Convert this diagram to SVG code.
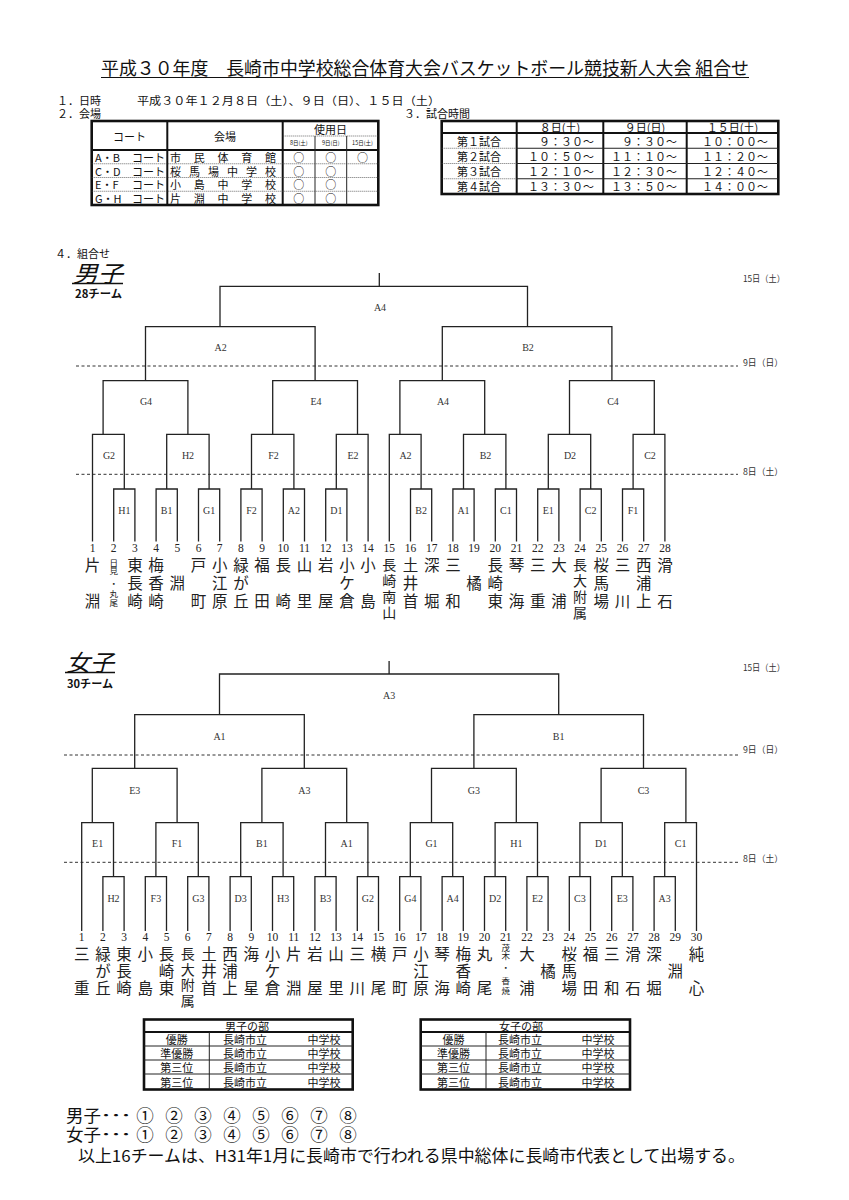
<svg xmlns="http://www.w3.org/2000/svg" width="849" height="1200" viewBox="0 0 849 1200">
<defs>
<style>
text{font-family:"Noto Sans CJK JP","Liberation Sans",sans-serif;fill:#111}
.c,.c tspan{dominant-baseline:central}
.m{text-anchor:middle}
.e{text-anchor:end}
.ln{fill:none;stroke:#222;stroke-width:1.3}
.dash{fill:none;stroke:#333;stroke-width:1;stroke-dasharray:3 2.5}
.thin{fill:none;stroke:#222;stroke-width:1}
.thk{fill:none;stroke:#111;stroke-width:2}
.box{fill:none;stroke:#111;stroke-width:2.6}
.dot{fill:none;stroke:#444;stroke-width:0.8;stroke-dasharray:1 1}
.nm,.nm tspan{font-size:15.5px;text-anchor:middle;dominant-baseline:central;fill:#222}
.n4,.n4 tspan{font-size:14px;text-anchor:middle;dominant-baseline:central;fill:#222}
.sm,.sm tspan{font-size:8.5px;text-anchor:middle;dominant-baseline:central;fill:#222}
.no{font-family:"Liberation Serif",serif;font-size:11.5px;text-anchor:middle;dominant-baseline:central;fill:#222}
.lb{font-family:"Liberation Serif",serif;font-size:10px;text-anchor:middle;dominant-baseline:central;fill:#333}
.dl{font-size:9px;dominant-baseline:central;fill:#333}
.h11{font-size:11px}
.tb{font-size:11px;dominant-baseline:central}
.ft,.ft tspan{font-size:17.5px;dominant-baseline:central;fill:#111}
</style>
</defs>
<rect width="849" height="1200" fill="#fff"/>

<g id="header">
<text class="c" x="101" y="67" font-size="18" textLength="648" lengthAdjust="spacingAndGlyphs">平成３０年度　長崎市中学校総合体育大会バスケットボール競技新人大会 組合せ</text>
<line x1="101" y1="77.5" x2="749" y2="77.5" stroke="#111" stroke-width="1"/>
<text class="c h11" x="57" y="100">１．日時</text>
<text class="c h11" x="137" y="100" textLength="303" lengthAdjust="spacingAndGlyphs">平成３０年１２月８日（土）、９日（日）、１５日（土）</text>
<text class="c h11" x="57" y="113">２．会場</text>
<text class="c h11" x="404" y="113">３．試合時間</text>
<text class="c h11" x="55" y="253">４．組合せ</text>
</g>

<g id="table-venue">
<rect class="box" x="91.7" y="121" width="286.6" height="84"/>
<line class="thk" x1="167.3" y1="121" x2="167.3" y2="205"/>
<line class="thk" x1="282.7" y1="121" x2="282.7" y2="205"/>
<line class="thk" x1="91.7" y1="150" x2="378.3" y2="150"/>
<line class="dot" x1="282.7" y1="136" x2="378.3" y2="136"/>
<line class="thin" x1="315" y1="136" x2="315" y2="205"/>
<line class="thin" x1="346.7" y1="136" x2="346.7" y2="205"/>
<line class="dot" x1="91.7" y1="163.75" x2="378.3" y2="163.75"/>
<line class="dot" x1="91.7" y1="177.5" x2="378.3" y2="177.5"/>
<line class="dot" x1="91.7" y1="191.25" x2="378.3" y2="191.25"/>
<text class="tb m" x="129.5" y="135.5">コート</text>
<text class="tb m" x="225" y="135.5">会場</text>
<text class="tb m" x="330.5" y="128.5" font-size="12">使用日</text>
<text class="m c" x="298.8" y="143" font-size="5.5">8日(土)</text>
<text class="m c" x="330.8" y="143" font-size="5.5">9日(日)</text>
<text class="m c" x="362.5" y="143" font-size="5.5">15日(土)</text>
<text class="tb" x="95" y="157">A・B</text>
<text class="tb e" x="165" y="157">コート</text>
<text class="tb" x="170" y="157" textLength="106" lengthAdjust="spacing">市民体育館</text>
<text class="tb" x="95" y="170.7">C・D</text>
<text class="tb e" x="165" y="170.7">コート</text>
<text class="tb" x="170" y="170.7" textLength="106" lengthAdjust="spacing">桜馬場中学校</text>
<text class="tb" x="95" y="184.4">E・F</text>
<text class="tb e" x="165" y="184.4">コート</text>
<text class="tb" x="170" y="184.4" textLength="106" lengthAdjust="spacing">小島中学校</text>
<text class="tb" x="95" y="198.1">G・H</text>
<text class="tb e" x="165" y="198.1">コート</text>
<text class="tb" x="170" y="198.1" textLength="106" lengthAdjust="spacing">片淵中学校</text>
<text class="tb m" x="298.8" y="157">○</text>
<text class="tb m" x="330.8" y="157">○</text>
<text class="tb m" x="362.5" y="157">○</text>
<text class="tb m" x="298.8" y="170.7">○</text>
<text class="tb m" x="330.8" y="170.7">○</text>
<text class="tb m" x="298.8" y="184.4">○</text>
<text class="tb m" x="330.8" y="184.4">○</text>
<text class="tb m" x="298.8" y="198.1">○</text>
<text class="tb m" x="330.8" y="198.1">○</text>
</g>

<g id="table-time">
<rect class="box" x="441.7" y="121" width="336.6" height="73"/>
<line class="thk" x1="516.7" y1="121" x2="516.7" y2="194"/>
<line class="thk" x1="603.3" y1="121" x2="603.3" y2="194"/>
<line class="thk" x1="686.7" y1="121" x2="686.7" y2="194"/>
<line class="thk" x1="441.7" y1="133" x2="778.3" y2="133"/>
<line class="dot" x1="441.7" y1="148.25" x2="516.7" y2="148.25"/>
<line class="dot" x1="441.7" y1="163.5" x2="516.7" y2="163.5"/>
<line class="dot" x1="441.7" y1="178.75" x2="516.7" y2="178.75"/>
<line class="thin" x1="516.7" y1="148.25" x2="778.3" y2="148.25"/>
<line class="thin" x1="516.7" y1="163.5" x2="778.3" y2="163.5"/>
<line class="thin" x1="516.7" y1="178.75" x2="778.3" y2="178.75"/>
<text class="tb m" x="560" y="127">８日(土)</text>
<text class="tb m" x="645" y="127">９日(日)</text>
<text class="tb m" x="732.5" y="127">１５日(土)</text>
<text class="tb m" x="479" y="140.6">第１試合</text>
<text class="tb m" x="479" y="155.9">第２試合</text>
<text class="tb m" x="479" y="171.1">第３試合</text>
<text class="tb m" x="479" y="186.4">第４試合</text>
<text class="tb e" x="594" y="140.6">９：３０～</text>
<text class="tb e" x="594" y="155.9">１０：５０～</text>
<text class="tb e" x="594" y="171.1">１２：１０～</text>
<text class="tb e" x="594" y="186.4">１３：３０～</text>
<text class="tb e" x="677" y="140.6">９：３０～</text>
<text class="tb e" x="677" y="155.9">１１：１０～</text>
<text class="tb e" x="677" y="171.1">１２：３０～</text>
<text class="tb e" x="677" y="186.4">１３：５０～</text>
<text class="tb e" x="768" y="140.6">１０：００～</text>
<text class="tb e" x="768" y="155.9">１１：２０～</text>
<text class="tb e" x="768" y="171.1">１２：４０～</text>
<text class="tb e" x="768" y="186.4">１４：００～</text>
</g>

<g id="men-title">
<text class="c" x="73" y="271.5" font-size="23" font-style="italic" textLength="50" lengthAdjust="spacingAndGlyphs">男子</text>
<line x1="72" y1="283.5" x2="123" y2="283.5" stroke="#111" stroke-width="1.3"/>
<text class="c" x="75" y="293" font-size="11" font-weight="bold" textLength="47" lengthAdjust="spacingAndGlyphs">28チーム</text>
</g>

<g id="men-dates">
<line class="dash" x1="76" y1="366" x2="738" y2="366"/>
<line class="dash" x1="76" y1="474.3" x2="738" y2="474.3"/>
<text class="dl" x="743" y="278" textLength="42" lengthAdjust="spacingAndGlyphs">15日（土）</text>
<text class="dl" x="743" y="362" textLength="40" lengthAdjust="spacingAndGlyphs">9日（日）</text>
<text class="dl" x="743" y="471" textLength="40" lengthAdjust="spacingAndGlyphs">8日（土）</text>
</g>

<g id="men-connectors">
<path class="ln" d="M113.7 541.5V489H134.9V541.5M156.1 541.5V489H177.3V541.5M198.5 541.5V489H219.7V541.5M240.9 541.5V489H262.1V541.5M283.3 541.5V489H304.5V541.5M325.7 541.5V489H346.9V541.5M410.5 541.5V489H431.7V541.5M452.9 541.5V489H474.1V541.5M495.3 541.5V489H516.5V541.5M537.7 541.5V489H558.9V541.5M580.1 541.5V489H601.3V541.5M622.5 541.5V489H643.7V541.5"/>
<path class="ln" d="M92.5 541.5V434.3H124.3V489M166.7 489V434.3H209.1V489M251.5 489V434.3H293.9V489M336.3 489V434.3H368.1V541.5M389.3 541.5V434.3H421.1V489M463.5 489V434.3H505.9V489M548.3 489V434.3H590.7V489M633.1 489V434.3H664.9V541.5"/>
<path class="ln" d="M103.1 434.3V380.7H187.9V434.3M272.7 434.3V380.7H357.5V434.3M399.9 434.3V380.7H484.7V434.3M569.5 434.3V380.7H654.3V434.3"/>
<path class="ln" d="M145.5 380.7V326.7H315.1V380.7M442.3 380.7V326.7H611.9V380.7"/>
<path class="ln" d="M220 326.7V286.3H527.5V326.7M379.3 286.3V273"/>
</g>

<g id="men-matches">
<g id="m-final-A4"><text class="lb" x="380" y="307.5">A4</text></g>
<g id="m-r4-A2"><text class="lb" x="220.7" y="347.7">A2</text></g>
<g id="m-r4-B2"><text class="lb" x="528" y="347.7">B2</text></g>
<g id="m-r3-G4"><text class="lb" x="146" y="401.7">G4</text></g>
<g id="m-r3-E4"><text class="lb" x="316" y="401.7">E4</text></g>
<g id="m-r3-A4"><text class="lb" x="443" y="401.7">A4</text></g>
<g id="m-r3-C4"><text class="lb" x="613" y="401.7">C4</text></g>
<g id="m-r2-G2"><text class="lb" x="109" y="455.5">G2</text></g>
<g id="m-r2-H2"><text class="lb" x="188" y="455.5">H2</text></g>
<g id="m-r2-F2"><text class="lb" x="273.5" y="455.5">F2</text></g>
<g id="m-r2-E2"><text class="lb" x="353" y="455.5">E2</text></g>
<g id="m-r2-A2"><text class="lb" x="405.5" y="455.5">A2</text></g>
<g id="m-r2-B2"><text class="lb" x="485.5" y="455.5">B2</text></g>
<g id="m-r2-D2"><text class="lb" x="570" y="455.5">D2</text></g>
<g id="m-r2-C2"><text class="lb" x="650" y="455.5">C2</text></g>
<g id="m-r1-H1"><text class="lb" x="124.3" y="510">H1</text></g>
<g id="m-r1-B1"><text class="lb" x="166.7" y="510">B1</text></g>
<g id="m-r1-G1"><text class="lb" x="209.1" y="510">G1</text></g>
<g id="m-r1-F2"><text class="lb" x="251.5" y="510">F2</text></g>
<g id="m-r1-A2"><text class="lb" x="293.9" y="510">A2</text></g>
<g id="m-r1-D1"><text class="lb" x="336.3" y="510">D1</text></g>
<g id="m-r1-B2"><text class="lb" x="421.1" y="510">B2</text></g>
<g id="m-r1-A1"><text class="lb" x="463.5" y="510">A1</text></g>
<g id="m-r1-C1"><text class="lb" x="505.9" y="510">C1</text></g>
<g id="m-r1-E1"><text class="lb" x="548.3" y="510">E1</text></g>
<g id="m-r1-C2"><text class="lb" x="590.7" y="510">C2</text></g>
<g id="m-r1-F1"><text class="lb" x="633.1" y="510">F1</text></g>
</g>

<g id="men-teams">
<g id="m-team-1"><text class="no" x="92.5" y="548">1</text><text class="nm"><tspan x="92.5" y="563.5">片</tspan><tspan x="92.5" y="599.5">淵</tspan></text></g>
<g id="m-team-2"><text class="no" x="113.7" y="548">2</text><text class="sm"><tspan x="113.7" y="561.7">日</tspan><tspan x="113.7" y="570">見</tspan><tspan x="113.7" y="582.5">・</tspan><tspan x="113.7" y="593.3">丸</tspan><tspan x="113.7" y="601.7">尾</tspan></text></g>
<g id="m-team-3"><text class="no" x="134.9" y="548">3</text><text class="nm"><tspan x="134.9" y="563.5">東</tspan><tspan x="134.9" y="581.5">長</tspan><tspan x="134.9" y="599.5">崎</tspan></text></g>
<g id="m-team-4"><text class="no" x="156.1" y="548">4</text><text class="nm"><tspan x="156.1" y="563.5">梅</tspan><tspan x="156.1" y="581.5">香</tspan><tspan x="156.1" y="599.5">崎</tspan></text></g>
<g id="m-team-5"><text class="no" x="177.3" y="548">5</text><text class="nm"><tspan x="177.3" y="581.5">淵</tspan></text></g>
<g id="m-team-6"><text class="no" x="198.5" y="548">6</text><text class="nm"><tspan x="198.5" y="563.5">戸</tspan><tspan x="198.5" y="599.5">町</tspan></text></g>
<g id="m-team-7"><text class="no" x="219.7" y="548">7</text><text class="nm"><tspan x="219.7" y="563.5">小</tspan><tspan x="219.7" y="581.5">江</tspan><tspan x="219.7" y="599.5">原</tspan></text></g>
<g id="m-team-8"><text class="no" x="240.9" y="548">8</text><text class="nm"><tspan x="240.9" y="563.5">緑</tspan><tspan x="240.9" y="581.5">が</tspan><tspan x="240.9" y="599.5">丘</tspan></text></g>
<g id="m-team-9"><text class="no" x="262.1" y="548">9</text><text class="nm"><tspan x="262.1" y="563.5">福</tspan><tspan x="262.1" y="599.5">田</tspan></text></g>
<g id="m-team-10"><text class="no" x="283.3" y="548">10</text><text class="nm"><tspan x="283.3" y="563.5">長</tspan><tspan x="283.3" y="599.5">崎</tspan></text></g>
<g id="m-team-11"><text class="no" x="304.5" y="548">11</text><text class="nm"><tspan x="304.5" y="563.5">山</tspan><tspan x="304.5" y="599.5">里</tspan></text></g>
<g id="m-team-12"><text class="no" x="325.7" y="548">12</text><text class="nm"><tspan x="325.7" y="563.5">岩</tspan><tspan x="325.7" y="599.5">屋</tspan></text></g>
<g id="m-team-13"><text class="no" x="346.9" y="548">13</text><text class="nm"><tspan x="346.9" y="563.5">小</tspan><tspan x="346.9" y="581.5">ケ</tspan><tspan x="346.9" y="599.5">倉</tspan></text></g>
<g id="m-team-14"><text class="no" x="368.1" y="548">14</text><text class="nm"><tspan x="368.1" y="563.5">小</tspan><tspan x="368.1" y="599.5">島</tspan></text></g>
<g id="m-team-15"><text class="no" x="389.3" y="548">15</text><text class="n4"><tspan x="389.3" y="563.5">長</tspan><tspan x="389.3" y="579.5">崎</tspan><tspan x="389.3" y="595.5">南</tspan><tspan x="389.3" y="611.5">山</tspan></text></g>
<g id="m-team-16"><text class="no" x="410.5" y="548">16</text><text class="nm"><tspan x="410.5" y="563.5">土</tspan><tspan x="410.5" y="581.5">井</tspan><tspan x="410.5" y="599.5">首</tspan></text></g>
<g id="m-team-17"><text class="no" x="431.7" y="548">17</text><text class="nm"><tspan x="431.7" y="563.5">深</tspan><tspan x="431.7" y="599.5">堀</tspan></text></g>
<g id="m-team-18"><text class="no" x="452.9" y="548">18</text><text class="nm"><tspan x="452.9" y="563.5">三</tspan><tspan x="452.9" y="599.5">和</tspan></text></g>
<g id="m-team-19"><text class="no" x="474.1" y="548">19</text><text class="nm"><tspan x="474.1" y="581.5">橘</tspan></text></g>
<g id="m-team-20"><text class="no" x="495.3" y="548">20</text><text class="nm"><tspan x="495.3" y="563.5">長</tspan><tspan x="495.3" y="581.5">崎</tspan><tspan x="495.3" y="599.5">東</tspan></text></g>
<g id="m-team-21"><text class="no" x="516.5" y="548">21</text><text class="nm"><tspan x="516.5" y="563.5">琴</tspan><tspan x="516.5" y="599.5">海</tspan></text></g>
<g id="m-team-22"><text class="no" x="537.7" y="548">22</text><text class="nm"><tspan x="537.7" y="563.5">三</tspan><tspan x="537.7" y="599.5">重</tspan></text></g>
<g id="m-team-23"><text class="no" x="558.9" y="548">23</text><text class="nm"><tspan x="558.9" y="563.5">大</tspan><tspan x="558.9" y="599.5">浦</tspan></text></g>
<g id="m-team-24"><text class="no" x="580.1" y="548">24</text><text class="n4"><tspan x="580.1" y="563.5">長</tspan><tspan x="580.1" y="579.5">大</tspan><tspan x="580.1" y="595.5">附</tspan><tspan x="580.1" y="611.5">属</tspan></text></g>
<g id="m-team-25"><text class="no" x="601.3" y="548">25</text><text class="nm"><tspan x="601.3" y="563.5">桜</tspan><tspan x="601.3" y="581.5">馬</tspan><tspan x="601.3" y="599.5">場</tspan></text></g>
<g id="m-team-26"><text class="no" x="622.5" y="548">26</text><text class="nm"><tspan x="622.5" y="563.5">三</tspan><tspan x="622.5" y="599.5">川</tspan></text></g>
<g id="m-team-27"><text class="no" x="643.7" y="548">27</text><text class="nm"><tspan x="643.7" y="563.5">西</tspan><tspan x="643.7" y="581.5">浦</tspan><tspan x="643.7" y="599.5">上</tspan></text></g>
<g id="m-team-28"><text class="no" x="664.9" y="548">28</text><text class="nm"><tspan x="664.9" y="563.5">滑</tspan><tspan x="664.9" y="599.5">石</tspan></text></g>
</g>

<g id="women-title">
<text class="c" x="66" y="660.5" font-size="23" font-style="italic" textLength="48" lengthAdjust="spacingAndGlyphs">女子</text>
<line x1="65" y1="672.5" x2="115" y2="672.5" stroke="#111" stroke-width="1.3"/>
<text class="c" x="67" y="683" font-size="11" font-weight="bold" textLength="46" lengthAdjust="spacingAndGlyphs">30チーム</text>
</g>

<g id="women-dates">
<line class="dash" x1="64" y1="755" x2="738" y2="755"/>
<line class="dash" x1="64" y1="862.3" x2="738" y2="862.3"/>
<text class="dl" x="743" y="667" textLength="42" lengthAdjust="spacingAndGlyphs">15日（土）</text>
<text class="dl" x="743" y="749" textLength="40" lengthAdjust="spacingAndGlyphs">9日（日）</text>
<text class="dl" x="743" y="858" textLength="40" lengthAdjust="spacingAndGlyphs">8日（土）</text>
</g>

<g id="women-connectors">
<path class="ln" d="M102.9 931V876.7H124.1V931M145.3 931V876.7H166.5V931M187.7 931V876.7H208.9V931M230.1 931V876.7H251.3V931M272.5 931V876.7H293.7V931M314.9 931V876.7H336.1V931M357.3 931V876.7H378.5V931M399.7 931V876.7H420.9V931M442.1 931V876.7H463.3V931M484.5 931V876.7H505.7V931M526.9 931V876.7H548.1V931M569.3 931V876.7H590.5V931M611.7 931V876.7H632.9V931M654.1 931V876.7H675.3V931"/>
<path class="ln" d="M81.7 931V822.7H113.5V876.7M155.9 876.7V822.7H198.3V876.7M240.7 876.7V822.7H283.1V876.7M325.5 876.7V822.7H367.9V876.7M410.3 876.7V822.7H452.7V876.7M495.1 876.7V822.7H537.5V876.7M579.9 876.7V822.7H622.3V876.7M664.7 876.7V822.7H696.5V931"/>
<path class="ln" d="M92.3 822.7V768.3H177.1V822.7M261.9 822.7V768.3H346.7V822.7M431.5 822.7V768.3H516.3V822.7M601.1 822.7V768.3H685.9V822.7"/>
<path class="ln" d="M134.7 768.3V714.7H304.3V768.3M473.9 768.3V714.7H643.5V768.3"/>
<path class="ln" d="M219.5 714.7V674H558.7V714.7M389.1 674V661"/>
</g>

<g id="women-matches">
<g id="w-final-A3"><text class="lb" x="389.1" y="695">A3</text></g>
<g id="w-r4-A1"><text class="lb" x="219.5" y="736.7">A1</text></g>
<g id="w-r4-B1"><text class="lb" x="558.7" y="736.7">B1</text></g>
<g id="w-r3-E3"><text class="lb" x="134.7" y="790">E3</text></g>
<g id="w-r3-A3"><text class="lb" x="304.3" y="790">A3</text></g>
<g id="w-r3-G3"><text class="lb" x="473.9" y="790">G3</text></g>
<g id="w-r3-C3"><text class="lb" x="643.5" y="790">C3</text></g>
<g id="w-r2-E1"><text class="lb" x="97.6" y="843.3">E1</text></g>
<g id="w-r2-F1"><text class="lb" x="177.1" y="843.3">F1</text></g>
<g id="w-r2-B1"><text class="lb" x="261.9" y="843.3">B1</text></g>
<g id="w-r2-A1"><text class="lb" x="346.7" y="843.3">A1</text></g>
<g id="w-r2-G1"><text class="lb" x="431.5" y="843.3">G1</text></g>
<g id="w-r2-H1"><text class="lb" x="516.3" y="843.3">H1</text></g>
<g id="w-r2-D1"><text class="lb" x="601.1" y="843.3">D1</text></g>
<g id="w-r2-C1"><text class="lb" x="680.6" y="843.3">C1</text></g>
<g id="w-r1-H2"><text class="lb" x="113.5" y="898.3">H2</text></g>
<g id="w-r1-F3"><text class="lb" x="155.9" y="898.3">F3</text></g>
<g id="w-r1-G3"><text class="lb" x="198.3" y="898.3">G3</text></g>
<g id="w-r1-D3"><text class="lb" x="240.7" y="898.3">D3</text></g>
<g id="w-r1-H3"><text class="lb" x="283.1" y="898.3">H3</text></g>
<g id="w-r1-B3"><text class="lb" x="325.5" y="898.3">B3</text></g>
<g id="w-r1-G2"><text class="lb" x="367.9" y="898.3">G2</text></g>
<g id="w-r1-G4"><text class="lb" x="410.3" y="898.3">G4</text></g>
<g id="w-r1-A4"><text class="lb" x="452.7" y="898.3">A4</text></g>
<g id="w-r1-D2"><text class="lb" x="495.1" y="898.3">D2</text></g>
<g id="w-r1-E2"><text class="lb" x="537.5" y="898.3">E2</text></g>
<g id="w-r1-C3"><text class="lb" x="579.9" y="898.3">C3</text></g>
<g id="w-r1-E3"><text class="lb" x="622.3" y="898.3">E3</text></g>
<g id="w-r1-A3"><text class="lb" x="664.7" y="898.3">A3</text></g>
</g>

<g id="women-teams">
<g id="w-team-1"><text class="no" x="81.7" y="936.5">1</text><text class="nm"><tspan x="81.7" y="953.3">三</tspan><tspan x="81.7" y="987.3">重</tspan></text></g>
<g id="w-team-2"><text class="no" x="102.9" y="936.5">2</text><text class="nm"><tspan x="102.9" y="953.3">緑</tspan><tspan x="102.9" y="970">が</tspan><tspan x="102.9" y="987.3">丘</tspan></text></g>
<g id="w-team-3"><text class="no" x="124.1" y="936.5">3</text><text class="nm"><tspan x="124.1" y="953.3">東</tspan><tspan x="124.1" y="970">長</tspan><tspan x="124.1" y="987.3">崎</tspan></text></g>
<g id="w-team-4"><text class="no" x="145.3" y="936.5">4</text><text class="nm"><tspan x="145.3" y="953.3">小</tspan><tspan x="145.3" y="987.3">島</tspan></text></g>
<g id="w-team-5"><text class="no" x="166.5" y="936.5">5</text><text class="nm"><tspan x="166.5" y="953.3">長</tspan><tspan x="166.5" y="970">崎</tspan><tspan x="166.5" y="987.3">東</tspan></text></g>
<g id="w-team-6"><text class="no" x="187.7" y="936.5">6</text><text class="n4"><tspan x="187.7" y="953.3">長</tspan><tspan x="187.7" y="968.8">大</tspan><tspan x="187.7" y="984.3">附</tspan><tspan x="187.7" y="999.8">属</tspan></text></g>
<g id="w-team-7"><text class="no" x="208.9" y="936.5">7</text><text class="nm"><tspan x="208.9" y="953.3">土</tspan><tspan x="208.9" y="970">井</tspan><tspan x="208.9" y="987.3">首</tspan></text></g>
<g id="w-team-8"><text class="no" x="230.1" y="936.5">8</text><text class="nm"><tspan x="230.1" y="953.3">西</tspan><tspan x="230.1" y="970">浦</tspan><tspan x="230.1" y="987.3">上</tspan></text></g>
<g id="w-team-9"><text class="no" x="251.3" y="936.5">9</text><text class="nm"><tspan x="251.3" y="953.3">海</tspan><tspan x="251.3" y="987.3">星</tspan></text></g>
<g id="w-team-10"><text class="no" x="272.5" y="936.5">10</text><text class="nm"><tspan x="272.5" y="953.3">小</tspan><tspan x="272.5" y="970">ケ</tspan><tspan x="272.5" y="987.3">倉</tspan></text></g>
<g id="w-team-11"><text class="no" x="293.7" y="936.5">11</text><text class="nm"><tspan x="293.7" y="953.3">片</tspan><tspan x="293.7" y="987.3">淵</tspan></text></g>
<g id="w-team-12"><text class="no" x="314.9" y="936.5">12</text><text class="nm"><tspan x="314.9" y="953.3">岩</tspan><tspan x="314.9" y="987.3">屋</tspan></text></g>
<g id="w-team-13"><text class="no" x="336.1" y="936.5">13</text><text class="nm"><tspan x="336.1" y="953.3">山</tspan><tspan x="336.1" y="987.3">里</tspan></text></g>
<g id="w-team-14"><text class="no" x="357.3" y="936.5">14</text><text class="nm"><tspan x="357.3" y="953.3">三</tspan><tspan x="357.3" y="987.3">川</tspan></text></g>
<g id="w-team-15"><text class="no" x="378.5" y="936.5">15</text><text class="nm"><tspan x="378.5" y="953.3">横</tspan><tspan x="378.5" y="987.3">尾</tspan></text></g>
<g id="w-team-16"><text class="no" x="399.7" y="936.5">16</text><text class="nm"><tspan x="399.7" y="953.3">戸</tspan><tspan x="399.7" y="987.3">町</tspan></text></g>
<g id="w-team-17"><text class="no" x="420.9" y="936.5">17</text><text class="nm"><tspan x="420.9" y="953.3">小</tspan><tspan x="420.9" y="970">江</tspan><tspan x="420.9" y="987.3">原</tspan></text></g>
<g id="w-team-18"><text class="no" x="442.1" y="936.5">18</text><text class="nm"><tspan x="442.1" y="953.3">琴</tspan><tspan x="442.1" y="987.3">海</tspan></text></g>
<g id="w-team-19"><text class="no" x="463.3" y="936.5">19</text><text class="nm"><tspan x="463.3" y="953.3">梅</tspan><tspan x="463.3" y="970">香</tspan><tspan x="463.3" y="987.3">崎</tspan></text></g>
<g id="w-team-20"><text class="no" x="484.5" y="936.5">20</text><text class="nm"><tspan x="484.5" y="953.3">丸</tspan><tspan x="484.5" y="987.3">尾</tspan></text></g>
<g id="w-team-21"><text class="no" x="505.7" y="936.5">21</text><text class="sm"><tspan x="505.7" y="946.7">茂</tspan><tspan x="505.7" y="955">木</tspan><tspan x="505.7" y="966.7">・</tspan><tspan x="505.7" y="980">香</tspan><tspan x="505.7" y="990">焼</tspan></text></g>
<g id="w-team-22"><text class="no" x="526.9" y="936.5">22</text><text class="nm"><tspan x="526.9" y="953.3">大</tspan><tspan x="526.9" y="987.3">浦</tspan></text></g>
<g id="w-team-23"><text class="no" x="548.1" y="936.5">23</text><text class="nm"><tspan x="548.1" y="970">橘</tspan></text></g>
<g id="w-team-24"><text class="no" x="569.3" y="936.5">24</text><text class="nm"><tspan x="569.3" y="953.3">桜</tspan><tspan x="569.3" y="970">馬</tspan><tspan x="569.3" y="987.3">場</tspan></text></g>
<g id="w-team-25"><text class="no" x="590.5" y="936.5">25</text><text class="nm"><tspan x="590.5" y="953.3">福</tspan><tspan x="590.5" y="987.3">田</tspan></text></g>
<g id="w-team-26"><text class="no" x="611.7" y="936.5">26</text><text class="nm"><tspan x="611.7" y="953.3">三</tspan><tspan x="611.7" y="987.3">和</tspan></text></g>
<g id="w-team-27"><text class="no" x="632.9" y="936.5">27</text><text class="nm"><tspan x="632.9" y="953.3">滑</tspan><tspan x="632.9" y="987.3">石</tspan></text></g>
<g id="w-team-28"><text class="no" x="654.1" y="936.5">28</text><text class="nm"><tspan x="654.1" y="953.3">深</tspan><tspan x="654.1" y="987.3">堀</tspan></text></g>
<g id="w-team-29"><text class="no" x="675.3" y="936.5">29</text><text class="nm"><tspan x="675.3" y="970">淵</tspan></text></g>
<g id="w-team-30"><text class="no" x="696.5" y="936.5">30</text><text class="nm"><tspan x="696.5" y="953.3">純</tspan><tspan x="696.5" y="987.3">心</tspan></text></g>
</g>

<g id="result-men">
<rect class="box" x="144" y="1019.5" width="208.7" height="70" stroke-width="3"/>
<line class="thk" x1="144" y1="1032" x2="352.7" y2="1032"/>
<line class="thin" x1="209.3" y1="1032" x2="209.3" y2="1089.5"/>
<line class="thin" x1="144" y1="1046" x2="352.7" y2="1046"/>
<line class="thin" x1="144" y1="1060" x2="352.7" y2="1060"/>
<line class="thin" x1="144" y1="1074" x2="352.7" y2="1074"/>
<text class="tb m" x="247" y="1025.8" font-size="11.5">男子の部</text>
<text class="tb m" x="176.7" y="1039">優勝</text><text class="tb m" x="245" y="1039">長崎市立</text><text class="tb m" x="324" y="1039">中学校</text>
<text class="tb m" x="176.7" y="1053">準優勝</text><text class="tb m" x="245" y="1053">長崎市立</text><text class="tb m" x="324" y="1053">中学校</text>
<text class="tb m" x="176.7" y="1067">第三位</text><text class="tb m" x="245" y="1067">長崎市立</text><text class="tb m" x="324" y="1067">中学校</text>
<text class="tb m" x="176.7" y="1081.5">第三位</text><text class="tb m" x="245" y="1081.5">長崎市立</text><text class="tb m" x="324" y="1081.5">中学校</text>
</g>

<g id="result-women">
<rect class="box" x="420.7" y="1019.5" width="209.3" height="70" stroke-width="3"/>
<line class="thk" x1="420.7" y1="1032" x2="630" y2="1032"/>
<line class="thin" x1="486" y1="1032" x2="486" y2="1089.5"/>
<line class="thin" x1="420.7" y1="1046" x2="630" y2="1046"/>
<line class="thin" x1="420.7" y1="1060" x2="630" y2="1060"/>
<line class="thin" x1="420.7" y1="1074" x2="630" y2="1074"/>
<text class="tb m" x="521" y="1025.8" font-size="11.5">女子の部</text>
<text class="tb m" x="453.4" y="1039">優勝</text><text class="tb m" x="520" y="1039">長崎市立</text><text class="tb m" x="598" y="1039">中学校</text>
<text class="tb m" x="453.4" y="1053">準優勝</text><text class="tb m" x="520" y="1053">長崎市立</text><text class="tb m" x="598" y="1053">中学校</text>
<text class="tb m" x="453.4" y="1067">第三位</text><text class="tb m" x="520" y="1067">長崎市立</text><text class="tb m" x="598" y="1067">中学校</text>
<text class="tb m" x="453.4" y="1081.5">第三位</text><text class="tb m" x="520" y="1081.5">長崎市立</text><text class="tb m" x="598" y="1081.5">中学校</text>
</g>

<g id="footer">
<text class="ft" x="66" y="1114">男子</text>
<text class="ft" x="101" y="1114" textLength="30" lengthAdjust="spacingAndGlyphs">…</text>
<text class="ft m"><tspan x="145" y="1114">①</tspan><tspan x="174" y="1114">②</tspan><tspan x="203" y="1114">③</tspan><tspan x="232" y="1114">④</tspan><tspan x="261" y="1114">⑤</tspan><tspan x="290" y="1114">⑥</tspan><tspan x="319" y="1114">⑦</tspan><tspan x="348" y="1114">⑧</tspan></text>
<text class="ft" x="66" y="1133">女子</text>
<text class="ft" x="101" y="1133" textLength="30" lengthAdjust="spacingAndGlyphs">…</text>
<text class="ft m"><tspan x="145" y="1133">①</tspan><tspan x="174" y="1133">②</tspan><tspan x="203" y="1133">③</tspan><tspan x="232" y="1133">④</tspan><tspan x="261" y="1133">⑤</tspan><tspan x="290" y="1133">⑥</tspan><tspan x="319" y="1133">⑦</tspan><tspan x="348" y="1133">⑧</tspan></text>
<text class="c" x="78" y="1155" font-size="16.5" textLength="667" lengthAdjust="spacingAndGlyphs">以上16チームは、H31年1月に長崎市で行われる県中総体に長崎市代表として出場する。</text>
</g>
</svg>
